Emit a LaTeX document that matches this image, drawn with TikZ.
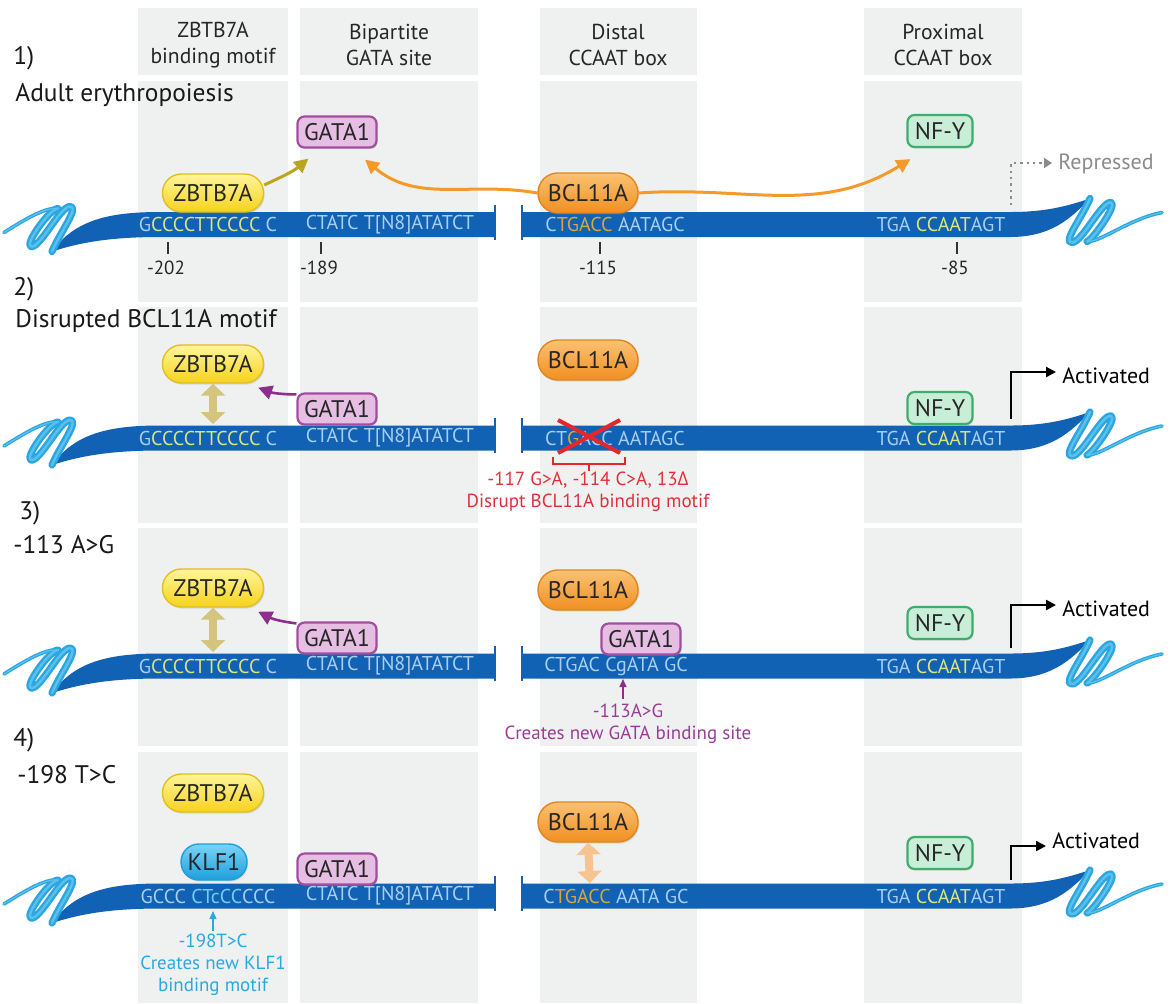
\documentclass[tikz,border=0pt]{standalone}
\usepackage{fontspec}
\setmainfont{PT Sans}
\newfontfamily\gkfont{Open Sans}
\usetikzlibrary{arrows.meta,shadows}
\definecolor{colbg}{HTML}{EFF1F1}
\definecolor{dnablue}{HTML}{1162B4}
\definecolor{sqblue}{HTML}{2AA6E0}
\definecolor{sqlight}{HTML}{5CC0EC}
\definecolor{lb}{HTML}{A8CEF2}
\definecolor{yg}{HTML}{DCE57E}
\definecolor{gold}{HTML}{D8A73A}
\definecolor{kcyan}{HTML}{6FD0F5}
\definecolor{yelT}{HTML}{FFF59A}
\definecolor{yelB}{HTML}{F6D21C}
\definecolor{yelD}{HTML}{E2BE22}
\definecolor{orT}{HTML}{FBC173}
\definecolor{orB}{HTML}{F08F22}
\definecolor{orD}{HTML}{E0861E}
\definecolor{puF}{HTML}{E6BEE4}
\definecolor{puD}{HTML}{A24E9F}
\definecolor{grF}{HTML}{C8EED8}
\definecolor{grD}{HTML}{3FAE6C}
\definecolor{klT}{HTML}{7AD3F7}
\definecolor{klB}{HTML}{1E9FDC}
\definecolor{olive}{HTML}{B9A51F}
\definecolor{orarr}{HTML}{F39A2B}
\definecolor{purarr}{HTML}{8E2E8C}
\definecolor{khaki}{HTML}{D4C47E}
\definecolor{lorange}{HTML}{F7C48F}
\definecolor{redx}{HTML}{E5262B}
\definecolor{redt}{HTML}{E0303A}
\definecolor{magt}{HTML}{9A3C96}
\definecolor{cyant}{HTML}{2AA8E0}
\definecolor{greyt}{HTML}{8C8C8C}

\newcommand\dnastrand[1]{%
  \fill[dnablue] (52,#1+27) .. controls (75,#1-5) and (110,#1-12.5) .. (160,#1-12.5)
     -- (495,#1-12.5) -- (495,#1+12.5) -- (160,#1+12.5)
     .. controls (110,#1+12.5) and (80,#1+18) .. (52,#1+27) -- cycle;
  \fill[dnablue] (522,#1-12.5) -- (1010,#1-12.5)
     .. controls (1045,#1-12.5) and (1066,#1-18) .. (1090,#1-26)
     .. controls (1070,#1-5) and (1050,#1+12.5) .. (1010,#1+12.5)
     -- (522,#1+12.5) -- cycle;
  \draw[dnablue, line width=1.1pt] (495,#1-20) -- (495,#1+15);
  \draw[dnablue, line width=1.1pt] (522,#1-20) -- (522,#1+15);
  \foreach \w/\v/\c in {3.6pt/1.8pt/sqblue, 1.2pt/0.6pt/sqlight}{%
  \draw[\c, line width=\w, line cap=round, line join=round]
     (52,#1+27) .. controls (60,#1+8) and (80,#1-18) .. (70,#1-18)
     .. controls (60,#1-18) and (40,#1+24) .. (31,#1+22)
     .. controls (24,#1+20) and (50,#1-16) .. (58,#1-16);
  \draw[\c, line width=\v, line cap=round]
     (58,#1-16) .. controls (45,#1-18) and (20,#1-2) .. (4,#1+8);
  \draw[\c, line width=\w, line cap=round, line join=round]
     (1090,#1-26) .. controls (1082,#1-7) and (1062,#1+18) .. (1072,#1+18)
     .. controls (1082,#1+18) and (1102,#1-24) .. (1111,#1-22)
     .. controls (1118,#1-20) and (1092,#1+16) .. (1087,#1+17);
  \draw[\c, line width=\v, line cap=round]
     (1087,#1+17) .. controls (1100,#1+18) and (1130,#1-6) .. (1162,#1-12);}
}

\tikzset{
  hdr/.style={align=center, font=\fontsize{10.8}{13}\selectfont, text=black!85},
  sec/.style={anchor=west, font=\fontsize{12.7}{14}\selectfont, text=black!90, inner sep=0pt},
  seq/.style={font=\fontsize{10}{11}\selectfont, text=lb, inner sep=0pt},
  prot/.style={font=\fontsize{12}{13}\selectfont, text=black!85, inner sep=0pt, line width=0.7pt,
     drop shadow={opacity=0.22, shadow xshift=0.6pt, shadow yshift=-0.8pt}},
  zb/.style={prot, minimum width=50.5pt, minimum height=19pt, rounded corners=9.4pt, top color=yelT, bottom color=yelB, draw=yelD},
  bc/.style={prot, minimum width=50pt, minimum height=20pt, rounded corners=9.9pt, top color=orT, bottom color=orB, draw=orD},
  ga/.style={prot, minimum width=39.5pt, minimum height=15.5pt, rounded corners=3.5pt, fill=puF, draw=puD, line width=1.1pt},
  nf/.style={prot, minimum width=32.5pt, minimum height=16pt, rounded corners=3.5pt, fill=grF, draw=grD, line width=1.1pt},
  kl/.style={prot, minimum width=33pt, minimum height=18pt, rounded corners=8.9pt, top color=klT, bottom color=klB, draw=klB},
  tick/.style={line width=0.6pt, black!80},
  tlab/.style={font=\fontsize{9.5}{10}\selectfont, text=black!85, inner sep=0pt},
  arr/.style={line width=1.5pt, -{Triangle[length=7pt,width=7pt]}},
  dbl/.style={line width=4pt, {Triangle[length=6pt,width=12pt]}-{Triangle[length=6pt,width=12pt]}},
  act/.style={line width=1.1pt, -{Triangle[length=5pt,width=5pt]}},
  note/.style={align=center, font=\fontsize{9.5}{11}\selectfont, inner sep=0pt},
  state/.style={anchor=west, font=\fontsize{11}{12}\selectfont, inner sep=0pt},
}

\begin{document}
\begin{tikzpicture}[x=0.5pt,y=-0.5pt]
\useasboundingbox (0,0) rectangle (1170,1003);
\fill[white] (0,0) rectangle (1170,1003);
% columns
\foreach \a/\b in {138/288, 300/478, 540/697, 864/1022}{
  \foreach \t/\u in {8/75, 81/302, 307/523, 528/746, 752/1003}{
    \fill[colbg] (\a,\t) rectangle (\b,\u);}}
% headers
\node[hdr] (h1) at (213,45) {ZBTB7A\\binding motif};
\node[hdr] (h2) at (389,45) {Bipartite\\GATA site};
\node[hdr] (h3) at (618,45) {Distal\\CCAAT box};
\node[hdr] (h4) at (943,45) {Proximal\\CCAAT box};

% ================= Panel 1
\node[sec] (n1) at (13,58) {1)};
\node[sec] (t1) at (15,95) {Adult erythropoiesis};
\dnastrand{224.5}
\node[seq] (s1a) at (208,224.5) {G\textcolor{yg}{CCCCTTCCCC} C};
\node[seq] (s1b) at (390,224.5) {CTATC T[N8]ATATCT};
\node[seq] (s1c) at (615,224.5) {C\textcolor{gold}{TGACC} AATAGC};
\node[seq] (s1d) at (941,224.5) {TGA \textcolor{yg}{CCAAT}AGT};
\foreach \x/\l/\n in {168/-202/a, 321/-189/b, 600/-115/c, 957/-85/d}{
  \draw[tick] (\x,242) -- (\x,254);
  \node[tlab] (k\n) at (\x-2,268) {\l};}
\node[ga] (g1) at (337,132) {GATA1};
\node[nf] (f1) at (940,131) {NF-Y};
\node[zb] (z1) at (213,193) {ZBTB7A};
\node[bc] (b1) at (588,193) {BCL11A};
\draw[arr, olive] ([yshift=4pt]z1.east) to[out=25,in=-140] ([xshift=6pt,yshift=-5pt]g1.south west);
\draw[arr, orarr] (b1.west) to[out=170,in=-40] ([xshift=14pt,yshift=-5.5pt]g1.south);
\draw[arr, orarr] (b1.east) to[out=4,in=-148] ([xshift=2pt,yshift=-5.5pt]f1.south west);
\coordinate (r1a) at (1011,205);
\coordinate (r1b) at (1052,163);
\draw[greyt, line width=1.2pt, dotted, -{Triangle[length=4pt,width=5pt]}] (r1a) |- (r1b);
\node[state, text=greyt] (rep) at (1058,164) {Repressed};

% ================= Panel 2
\node[sec] (n2) at (13,289) {2)};
\node[sec] (t2) at (15,321) {Disrupted BCL11A motif};
\dnastrand{438}
\node[seq] (s2a) at (208,438) {G\textcolor{yg}{CCCCTTCCCC} C};
\node[seq] (s2b) at (390,438) {CTATC T[N8]ATATCT};
\node[seq] (s2c) at (615,438) {CT\textcolor{gold}{G}ACC AATAGC};
\node[seq] (s2d) at (941,438) {TGA \textcolor{yg}{CCAAT}AGT};
\node[zb] (z2) at (213,364) {ZBTB7A};
\node[ga] (g2) at (337,409) {GATA1};
\node[bc] (b2) at (588,360) {BCL11A};
\node[nf] (f2) at (940,408) {NF-Y};
\draw[dbl, khaki] (z2.south) -- (213,424);
\draw[arr, purarr, line width=1.3pt] ([yshift=-1pt]g2.north west) to[bend left=10] ([xshift=-3pt,yshift=-2pt]z2.south east);
\draw[redx, line width=2pt] (558,420) -- (620,453) (620,420) -- (558,453);
\draw[redx, line width=0.8pt] (553,457) -- (553,464) -- (625,464) -- (625,457) (589,464) -- (589,471);
\node[note, text=redt] (m2) at (588,492) {-117 G>A, -114 C>A, 13{\gkfont Δ}\\Disrupt BCL11A binding motif};
\coordinate (a2a) at (1011,419);
\coordinate (a2b) at (1056,372);
\draw[act] (a2a) |- (a2b);
\node[state] (ac2) at (1062,376) {Activated};

% ================= Panel 3
\node[sec] (n3) at (19,513) {3)};
\node[sec] (t3) at (13,545) {-113 A>G};
\dnastrand{666}
\node[seq] (s3a) at (208,666) {G\textcolor{yg}{CCCCTTCCCC} C};
\node[seq] (s3b) at (390,666) {CTATC T[N8]ATATCT};
\node[seq] (s3c) at (616,666) {CTGAC CgATA GC};
\node[seq] (s3d) at (941,666) {TGA \textcolor{yg}{CCAAT}AGT};
\node[zb] (z3) at (213,588) {ZBTB7A};
\node[ga] (g3) at (337,638) {GATA1};
\node[bc] (b3) at (588,590) {BCL11A};
\node[ga] (g3b) at (641,639) {GATA1};
\node[nf] (f3) at (940,623) {NF-Y};
\draw[dbl, khaki] (z3.south) -- (213,652);
\draw[arr, purarr, line width=1.3pt] ([yshift=-1pt]g3.north west) to[bend left=10] ([xshift=-3pt,yshift=-2pt]z3.south east);
\coordinate (m3a) at (623,699);
\coordinate (m3b) at (623,679);
\draw[purarr, line width=0.7pt, -{Triangle[length=4pt,width=3.5pt]}] (m3a) -- (m3b);
\node[note, text=magt] (m3) at (628,724) {-113A>G\\Creates new GATA binding site};
\coordinate (a3a) at (1011,648);
\coordinate (a3b) at (1056,605);
\draw[act] (a3a) |- (a3b);
\node[state] (ac3) at (1062,609) {Activated};

% ================= Panel 4
\node[sec] (n4) at (13,740) {4)};
\node[sec] (t4) at (17,775) {-198 T>C};
\dnastrand{896}
\node[seq] (s4a) at (208,896) {GCCC \textcolor{kcyan}{CTcCC}CCC};
\node[seq] (s4b) at (390,896) {CTATC T[N8]ATATCT};
\node[seq] (s4c) at (616,896) {C\textcolor{gold}{TGACC} AATA GC};
\node[seq] (s4d) at (941,896) {TGA \textcolor{yg}{CCAAT}AGT};
\node[zb] (z4) at (213,793) {ZBTB7A};
\node[kl] (k4) at (214,862) {KLF1};
\node[ga] (g4) at (337,869) {GATA1};
\node[bc] (b4) at (588,822) {BCL11A};
\node[nf] (f4) at (940,853) {NF-Y};
\draw[dbl, lorange] (b4.south) -- (590,883);
\coordinate (m4a) at (213,931);
\coordinate (m4b) at (213,911);
\draw[cyant, line width=0.7pt, -{Triangle[length=4pt,width=3.5pt]}] (m4a) -- (m4b);
\node[note, text=cyant] (m4) at (213,965) {-198T>C\\Creates new KLF1\\binding motif};
\coordinate (a4a) at (1011,880);
\coordinate (a4b) at (1046,846);
\draw[act] (a4a) |- (a4b);
\node[state] (ac4) at (1052,841) {Activated};
\end{tikzpicture}
\end{document}
